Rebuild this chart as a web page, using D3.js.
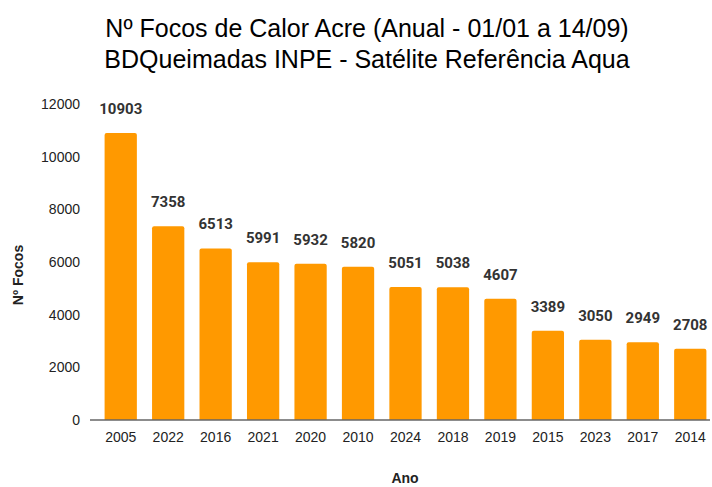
<!DOCTYPE html>
<html lang="pt">
<head>
    <meta charset="UTF-8">
    <title>Focos de Calor Acre</title>
    <style>
        body, html { margin: 0; padding: 0; background: #fff; overflow: hidden; }
        text { font-family: "Liberation Sans", Arial, sans-serif; }
        .val { font-family: Roboto, "Liberation Sans", sans-serif; font-weight: bold; font-size: 15px; fill: #333; }
    </style>
    <script src="https://d3js.org/d3.v7.min.js"></script>
</head>
<body>
<div id="chart"></div>
<script>
    const anos = ["2005", "2022", "2016", "2021", "2020", "2010", "2024", "2018", "2019", "2015", "2023", "2017", "2014"];
    const focos = [10903, 7358, 6513, 5991, 5932, 5820, 5051, 5038, 4607, 3389, 3050, 2949, 2708];
    const yTicks = [0, 2000, 4000, 6000, 8000, 10000, 12000];

    const width = 712, height = 487;

    const svg = d3.select("#chart").append("svg")
        .attr("width", width)
        .attr("height", height);

    // title
    const title = svg.append("text")
        .attr("text-anchor", "middle")
        .attr("font-size", 25)
        .attr("fill", "#000");
    title.append("tspan").attr("x", 367).attr("y", 37).text("Nº Focos de Calor Acre (Anual - 01/01 a 14/09)");
    title.append("tspan").attr("x", 367).attr("y", 68).text("BDQueimadas INPE - Satélite Referência Aqua");

    const x = d3.scaleBand()
        .domain(anos)
        .range([97, 714])
        .paddingInner(0.32)
        .paddingOuter(0.16);

    const y = d3.scaleLinear()
        .domain([0, 12000])
        .range([420, 104]);

    // y axis labels
    const yAxis = svg.append("g")
        .attr("transform", "translate(80,0)")
        .call(d3.axisLeft(y).tickValues(yTicks).tickSize(0).tickPadding(0).tickFormat(d3.format("d")));
    yAxis.select(".domain").remove();
    yAxis.selectAll("text").attr("font-size", 14).attr("fill", "#222")
        .attr("font-family", "Liberation Sans, Arial, sans-serif");

    // bars
    svg.append("g").selectAll("path")
        .data(focos)
        .join("path")
        .attr("fill", "#ff9900")
        .attr("d", (d, i) => {
            const x0 = x(anos[i]), w = x.bandwidth(), y0 = y(d), y1 = y(0), r = 2;
            return `M${x0},${y1}V${y0 + r}Q${x0},${y0} ${x0 + r},${y0}H${x0 + w - r}Q${x0 + w},${y0} ${x0 + w},${y0 + r}V${y1}Z`;
        });

    // baseline
    svg.append("line")
        .attr("x1", 90).attr("x2", 710)
        .attr("y1", y(0)).attr("y2", y(0))
        .attr("stroke", "#666").attr("stroke-width", 1.5);

    // value labels
    svg.append("g").selectAll("text")
        .data(focos)
        .join("text")
        .attr("class", "val")
        .attr("text-anchor", "middle")
        .attr("x", (d, i) => x(anos[i]) + x.bandwidth() / 2)
        .attr("y", d => y(d) - 19)
        .text(d => d);

    // x axis labels
    const xAxis = svg.append("g")
        .attr("transform", `translate(0,${y(0)})`)
        .call(d3.axisBottom(x).tickSize(0).tickPadding(12));
    xAxis.select(".domain").remove();
    xAxis.selectAll("text").attr("font-size", 14).attr("fill", "#222")
        .attr("font-family", "Liberation Sans, Arial, sans-serif");

    // axis titles
    svg.append("text")
        .attr("x", 405).attr("y", 483)
        .attr("text-anchor", "middle")
        .attr("font-family", "Roboto, sans-serif")
        .attr("font-weight", "bold").attr("font-size", 14).attr("fill", "#222")
        .text("Ano");

    svg.append("text")
        .attr("transform", "translate(23,275) rotate(-90)")
        .attr("text-anchor", "middle")
        .attr("font-family", "Roboto, sans-serif")
        .attr("font-weight", "bold").attr("font-size", 14).attr("fill", "#222")
        .text("Nº Focos");
</script>
</body>
</html>
